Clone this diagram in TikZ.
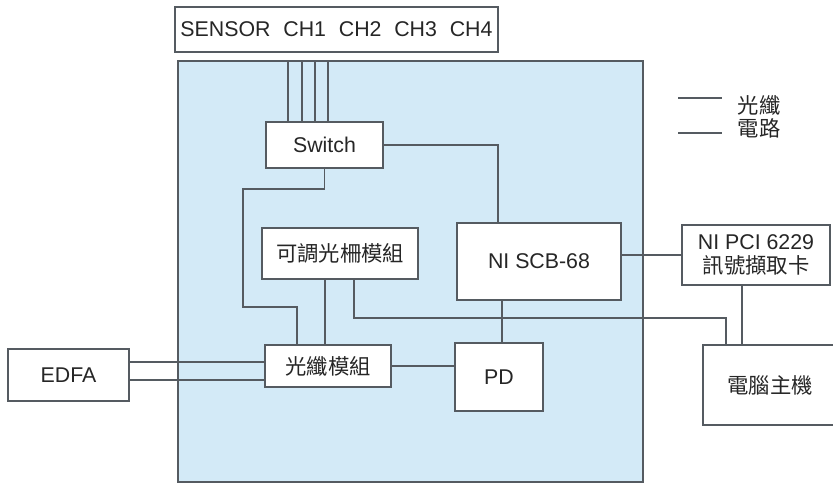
\documentclass[tikz,border=0pt]{standalone}
\usepackage{fontspec}
\setmainfont{Liberation Sans}
\newfontfamily\cjk{Noto Sans CJK TC}
\usetikzlibrary{calc}
\definecolor{linecol}{HTML}{555B61}
\definecolor{panelblue}{HTML}{D3EAF7}
\begin{document}
\begin{tikzpicture}[x=0.75pt,y=-0.75pt,
  line width=1.3pt,
  bx/.style 2 args={draw=linecol, fill=white, inner sep=0pt, line width=1.3pt,
    minimum width=#1*0.75pt, minimum height=#2*0.75pt,
    font=\fontsize{16}{18}\selectfont, text=black!85, align=center},
  conn/.style={draw=linecol, line width=1.3pt},
  legtext/.style={font=\fontsize{16}{18}\selectfont\cjk, text=black!85, inner sep=0pt, anchor=west}]
\path[use as bounding box] (0,0) rectangle (833,484);
\clip (0,0) rectangle (833,484);

% panel
\node[draw=linecol, fill=panelblue, line width=1.3pt, inner sep=0pt,
  minimum width=465*0.75pt, minimum height=421*0.75pt] (panel) at (410.5,271.5) {};

% boxes
\node[bx={323}{45}] (sensor) at (336.5,29.5) {SENSOR\hspace{0.6em}CH1\hspace{0.6em}CH2\hspace{0.6em}CH3\hspace{0.6em}CH4};
\node[bx={117}{46}] (sw) at (324.5,145) {Switch};
\node[bx={156}{51}] (gr) at (340,253.5) {\cjk 可調光柵模組};
\node[bx={164}{77}] (ni) at (539,261.5) {NI SCB-68};
\node[bx={148}{60}] (pci) at (756,255) {NI PCI 6229\\{\cjk 訊號擷取卡}};
\node[bx={126}{42}] (fm) at (328,366) {\cjk 光纖模組};
\node[bx={88}{68}] (pd) at (499,377) {PD};
\node[bx={121}{52}] (edfa) at (68.5,375) {EDFA};
\node[bx={134}{80}] (pc) at (770,385) {\cjk 電腦主機};

% fibers from sensor to switch
\coordinate (f1) at (288,61);
\coordinate (f2) at (302,61);
\coordinate (f3) at (315,61);
\coordinate (f4) at (328,61);
\foreach \f in {f1,f2,f3,f4} \draw[conn] (\f) -- (\f |- sw.north);

% switch to NI SCB-68
\draw[conn] (sw.east) -| ($(ni.north west)+(42,0)$);
% switch to fiber module
\draw[conn] (sw.south) -- ++(0,20) -| (243,307) -| ($(fm.north west)+(33,0)$);
% grating to fiber module
\draw[conn] ($(gr.south west)+(64,0)$) -- ($(fm.north west)+(61,0)$);
% grating to PC
\draw[conn] ($(gr.south west)+(93,0)$) -- ++(0,38) -| ($(pc.north west)+(24,0)$);
% NI to PD
\coordinate (pdtop) at ($(pd.north)+(3,0)$);
\draw[conn] (pdtop |- ni.south) -- (pdtop);
% NI to PCI
\draw[conn] (ni.east |- pci.west) -- (pci.west);
% PCI to PC
\draw[conn] ($(pci.south west)+(61,0)$) -- ($(pc.north west)+(40,0)$);
% fiber module to PD
\draw[conn] (fm.east) -- (fm.east -| pd.west);
% EDFA to fiber module
\coordinate (e1) at ($(edfa.north east)+(0,14)$);
\coordinate (e2) at ($(edfa.north east)+(0,32)$);
\draw[conn] (e1) -- (e1 -| fm.west);
\draw[conn] (e2) -- (e2 -| fm.west);

% legend
\coordinate (la1) at (678,98);
\coordinate (lb1) at (722,98);
\coordinate (la2) at (678,133);
\coordinate (lb2) at (722,133);
\draw[conn] (la1) -- (lb1);
\draw[conn] (la2) -- (lb2);
\node[legtext] (lg1) at (737,105) {光纖};
\node[legtext] (lg2) at (737,128) {電路};
\end{tikzpicture}
\end{document}
